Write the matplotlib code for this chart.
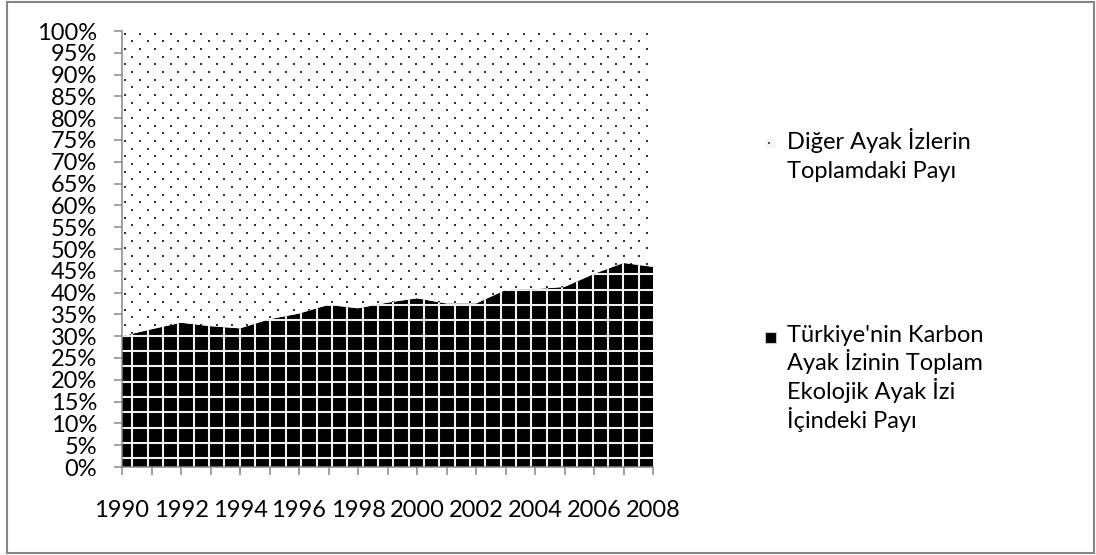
import numpy as np
import matplotlib.pyplot as plt
from matplotlib.patches import Rectangle

plt.rcParams['font.family'] = ['Lato', 'DejaVu Sans']

# yillar ve paylar (%)
yillar = list(range(1990, 2009))
karbon_payi = [30.0, 31.6, 33.1, 32.3, 31.8, 33.9, 35.2, 37.2, 36.4, 37.7,
               38.7, 37.5, 37.5, 40.6, 40.8, 41.3, 44.3, 46.8, 45.9]
diger_payi = [70.0, 68.4, 66.9, 67.7, 68.2, 66.1, 64.8, 62.8, 63.6, 62.3,
              61.3, 62.5, 62.5, 59.4, 59.2, 58.7, 55.7, 53.2, 54.1]
y_etiketleri = ['%d%%' % v for v in range(0, 101, 5)]
x_etiketleri = [str(y) if y % 2 == 0 else '' for y in yillar]
seri_adlari = ["Diğer Ayak İzlerin\nToplamdaki Payı",
               "Türkiye'nin Karbon\nAyak İzinin Toplam\nEkolojik Ayak İzi\nİçindeki Payı"]

gri = '#878787'
fs = 17

fig = plt.figure(figsize=(10.96, 5.55), dpi=100)

# cerceve ve lejant icin piksel koordinatli katman
kat = fig.add_axes([0, 0, 1, 1])
kat.set_xlim(0, 1096)
kat.set_ylim(555, 0)
kat.axis('off')
kat.add_patch(Rectangle((7, 2), 1087, 551, fill=False, edgecolor=gri, lw=1.5))

ax = fig.add_axes([122 / 1096, 88 / 555, 531 / 1096, 436 / 555])
alanlar = ax.stackplot(yillar, karbon_payi, diger_payi,
                       colors=['black', 'white'], linewidth=0)
alt_yol = alanlar[0].get_paths()[0]
ust_yol = alanlar[1].get_paths()[0]

# siyah alan: beyaz kare desen
gx = np.arange(1990.35, 2008.01, 0.5203)
gy = np.arange(1.95, 100, 3.52)
dik = ax.vlines(gx, 0, 100, colors='#f0f0f0', lw=1.5, zorder=3)
yatay = ax.hlines(gy, 1990, 2008, colors='#f0f0f0', lw=1.5, zorder=3)
for c in (dik, yatay):
    c.set_clip_path(alt_yol, ax.transData)

# beyaz alan: noktali desen
nx = np.arange(1990.35 - 0.2602 * 80, 2008.2, 0.2602)
ny = 51.9 + np.arange(-40, 40) * 1.76
mx, my = np.meshgrid(np.arange(len(nx)), np.arange(len(ny)))
secim = (mx + my) % 2 == 0
noktalar = ax.scatter(nx[mx[secim]], ny[my[secim]], s=3, marker='s',
                      color='#333333', linewidths=0, zorder=3)
noktalar.set_clip_path(ust_yol, ax.transData)

ax.set_xlim(1990, 2008)
ax.set_ylim(0, 100)
ax.set_yticks(range(0, 101, 5))
ax.set_yticklabels(y_etiketleri)
ax.set_xticks(yillar)
ax.set_xticklabels(x_etiketleri)
for s in ('top', 'right'):
    ax.spines[s].set_visible(False)
for s in ('left', 'bottom'):
    ax.spines[s].set_color(gri)
    ax.spines[s].set_linewidth(1.1)
    ax.spines[s].set_zorder(4)
ax.tick_params(axis='both', direction='out', length=5.8, width=1.1,
               color=gri, labelsize=fs, labelcolor='black')
ax.tick_params(axis='y', pad=12)
ax.tick_params(axis='x', pad=18)

# lejant
kat.add_patch(Rectangle((765, 138), 11, 10, facecolor='#f6f6f6', edgecolor='none'))
kat.scatter([769], [143], s=3, marker='s', color='#555555', linewidths=0)
kat.add_patch(Rectangle((765, 332), 11, 11, facecolor='black', edgecolor='#c8c8c8', lw=0.8))
for ad, y0 in zip(seri_adlari, [149, 342]):
    for i, satir in enumerate(ad.split('\n')):
        kat.text(787, y0 + i * 28.5, satir, fontsize=fs, va='baseline', ha='left')

fig.savefig('out.png', dpi=100)
